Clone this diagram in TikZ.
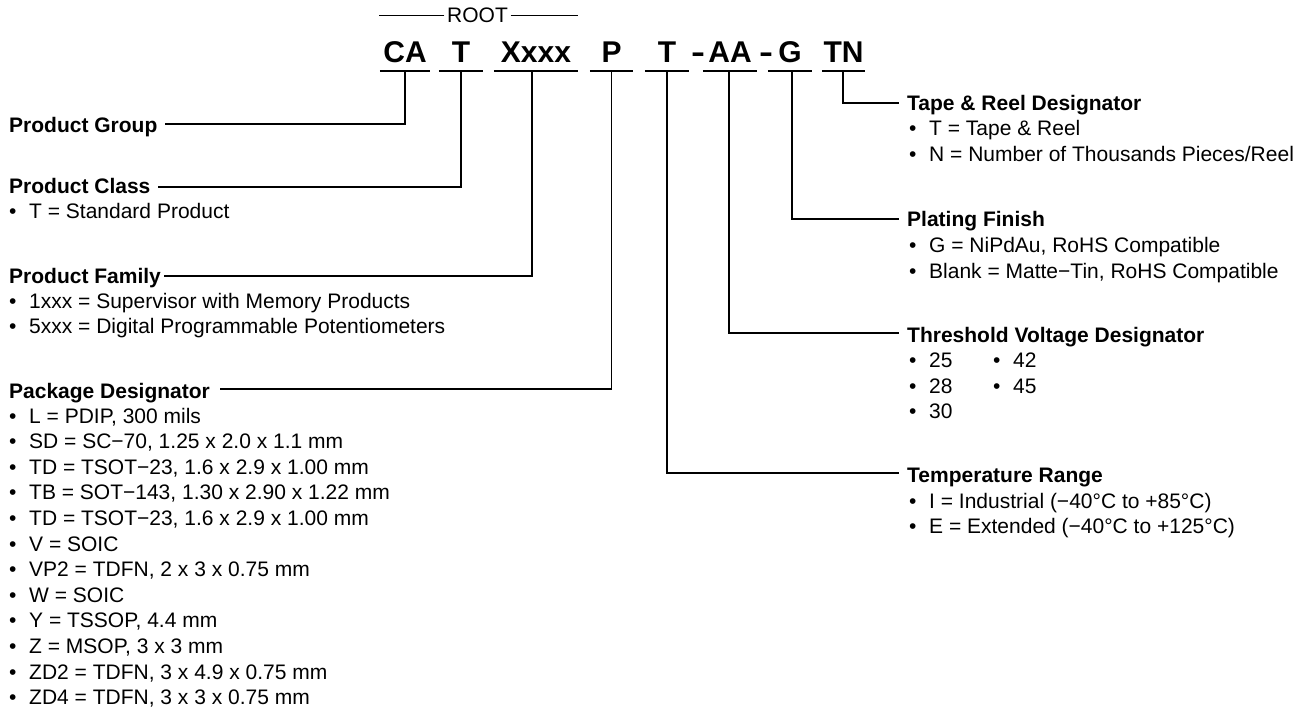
\documentclass[tikz,border=0pt]{standalone}
\usepackage{fontspec}
\setmainfont{Liberation Sans}
\usetikzlibrary{calc}
\tikzset{
  ln/.style={line width=1.4pt, line cap=butt, line join=miter},
  code/.style={font=\fontsize{30}{32}\selectfont\bfseries, inner sep=0pt, anchor=base},
  head/.style={font=\fontsize{21}{24}\selectfont\bfseries, inner sep=0pt, anchor=base west},
  txt/.style={font=\fontsize{21}{24}\selectfont, inner sep=0pt, anchor=base west},
}
\newcommand\bitem[4]{%
  \node[txt] (#1b) at (#2,#3) {•};
  \node[txt] (#1) at (#2+20,#3) {#4};}
\newcommand\wdash{\scalebox{1.4}[1]{-}}
\begin{document}
\begin{tikzpicture}[x=1pt,y=-1pt]
\useasboundingbox (0,0) rectangle (1308,711);

% ROOT
\node[txt, anchor=base] (root) at (477.5,23) {ROOT};
\draw[ln, line width=1.1pt] ([xshift=-2.5pt,yshift=7.5pt]root.base west) -- ++(-65,0);
\draw[ln, line width=1.1pt] ([xshift=2.5pt,yshift=7.5pt]root.base east) -- ++(67,0);

% part number
\node[code, minimum width=50pt] (cCA) at (405,63) {CA};
\node[code, minimum width=44pt] (cT)  at (461,63) {T};
\node[code, minimum width=84pt] (cX)  at (536,63) {Xxxx};
\node[code, minimum width=43pt] (cP)  at (611.5,63) {P};
\node[code, minimum width=44pt] (cTT) at (667,63) {T};
\node[code] (dAA) at (698,63) {\wdash};
\node[code, minimum width=54pt] (cAA) at (730,63) {AA};
\node[code] (dG) at (766,63) {\wdash};
\node[code, minimum width=44pt] (cG)  at (790,63) {G};
\node[code, minimum width=43pt] (cTN) at (843.5,63) {TN};
\foreach \n in {cCA,cT,cX,cP,cTT,cAA,cG,cTN}
  \draw[ln] ([yshift=-8pt]\n.base west) -- ([yshift=-8pt]\n.base east);

% left headings
\node[head] (grp) at (9,133) {Product Group};
\node[head] (cls) at (9,194) {Product Class};
\bitem{cls1}{9}{219}{T = Standard Product}
\node[head] (fam) at (9,283) {Product Family};
\bitem{fam1}{9}{308}{1xxx = Supervisor with Memory Products}
\bitem{fam2}{9}{333}{5xxx = Digital Programmable Potentiometers}
\node[head] (pkg) at (9,398) {Package Designator};
\foreach \t [count=\i from 0] in {%
  {L = PDIP, 300 mils},
  {SD = SC−70, 1.25 x 2.0 x 1.1 mm},
  {TD = TSOT−23, 1.6 x 2.9 x 1.00 mm},
  {TB = SOT−143, 1.30 x 2.90 x 1.22 mm},
  {TD = TSOT−23, 1.6 x 2.9 x 1.00 mm},
  {V = SOIC},
  {VP2 = TDFN, 2 x 3 x 0.75 mm},
  {W = SOIC},
  {Y = TSSOP, 4.4 mm},
  {Z = MSOP, 3 x 3 mm},
  {ZD2 = TDFN, 3 x 4.9 x 0.75 mm},
  {ZD4 = TDFN, 3 x 3 x 0.75 mm}}
  {\bitem{pk\i}{9}{423+25.6*\i}{\t}}

% right headings
\node[head] (tape) at (907,111) {Tape \& Reel Designator};
\bitem{tape1}{909}{136}{T = Tape \& Reel}
\bitem{tape2}{909}{162}{N = Number of Thousands Pieces/Reel}
\node[head] (plat) at (907,227) {Plating Finish};
\bitem{plat1}{909}{253}{G = NiPdAu, RoHS Compatible}
\bitem{plat2}{909}{278}{Blank = Matte−Tin, RoHS Compatible}
\node[head] (thr) at (907,342) {Threshold Voltage Designator};
\bitem{thr1}{909}{367}{25}
\bitem{thr2}{909}{393}{28}
\bitem{thr3}{909}{418}{30}
\bitem{thr4}{993}{367}{42}
\bitem{thr5}{993}{393}{45}
\node[head] (temp) at (907,482) {Temperature Range};
\bitem{temp1}{909}{508}{I = Industrial (−40°C to +85°C)}
\bitem{temp2}{909}{533}{E = Extended (−40°C to +125°C)}

% connectors
\draw[ln] ([yshift=-8pt]cCA.base) |- ([xshift=7pt,yshift=9pt]grp.base east);
\draw[ln] ([yshift=-8pt]cT.base) |- ([xshift=7pt,yshift=7pt]cls.base east);
\draw[ln] ([xshift=-4pt,yshift=-8pt]cX.base) |- ([xshift=3pt,yshift=7pt]fam.base east);
\draw[ln] ([yshift=-8pt]cP.base) |- ([xshift=10pt,yshift=9pt]pkg.base east);
\draw[ln] ([yshift=-8pt]cTT.base) |- ([xshift=-8pt,yshift=9pt]temp.base west);
\draw[ln] ([xshift=-1pt,yshift=-8pt]cAA.base) |- ([xshift=-8pt,yshift=9pt]thr.base west);
\draw[ln] ([xshift=2pt,yshift=-8pt]cG.base) |- ([xshift=-8pt,yshift=8pt]plat.base west);
\draw[ln] ([xshift=-0.5pt,yshift=-8pt]cTN.base) |- ([xshift=-8pt,yshift=8pt]tape.base west);
\end{tikzpicture}
\end{document}
